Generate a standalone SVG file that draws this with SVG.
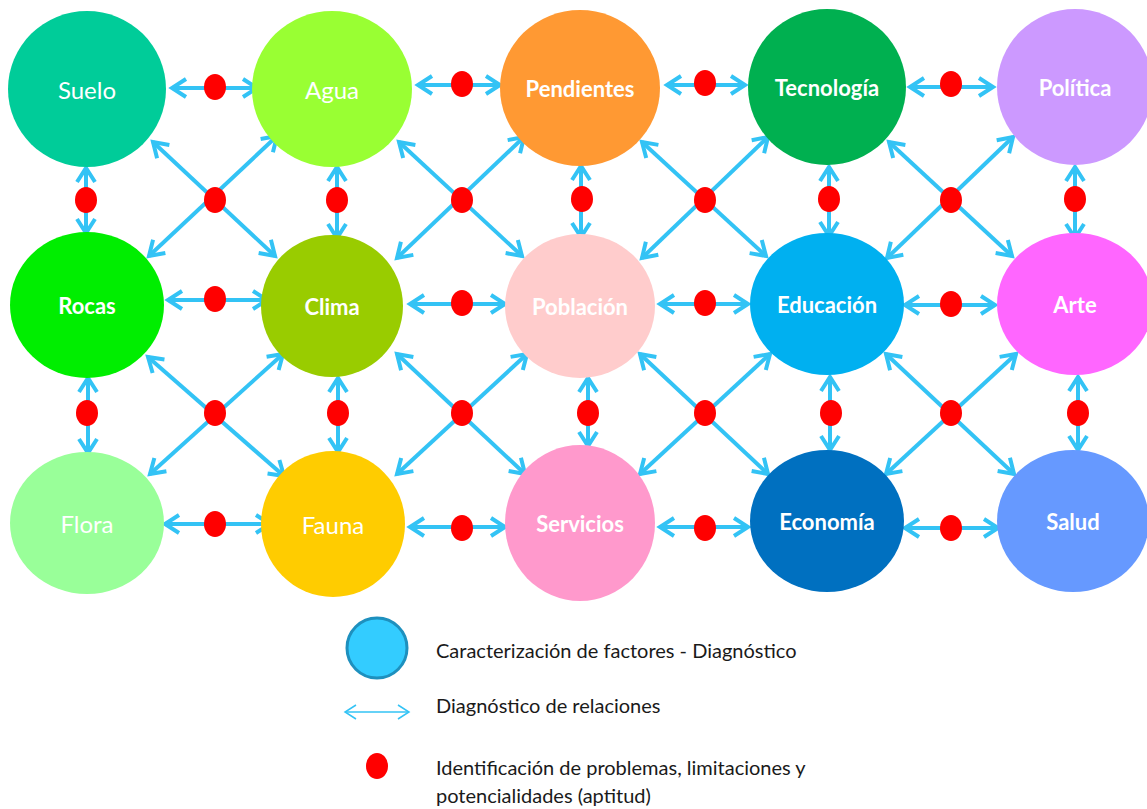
<svg xmlns="http://www.w3.org/2000/svg" width="1147" height="809" viewBox="0 0 1147 809">
<defs>
<marker id="ah" markerUnits="userSpaceOnUse" viewBox="-20 -13 26 26" refX="0" refY="0" markerWidth="26" markerHeight="26" orient="auto-start-reverse">
<path d="M-14,-9 L0,0 L-14,9" fill="none" stroke="#33C3F5" stroke-width="4"/>
</marker>
<marker id="ahs" markerUnits="userSpaceOnUse" viewBox="-14 -9 18 18" refX="0" refY="0" markerWidth="18" markerHeight="18" orient="auto-start-reverse">
<path d="M-11,-7 L0,0 L-11,7" fill="none" stroke="#33C3F5" stroke-width="1.5"/>
</marker>
<style>
.c{stroke:#33C3F5;stroke-width:4;fill:none;marker-start:url(#ah);marker-end:url(#ah)}
.d{fill:#FF0000}
.t{font-family:Lato,"Open Sans","Liberation Sans",sans-serif;fill:#FFFFFF;text-anchor:middle;dominant-baseline:central}
.r{font-size:24px;font-weight:normal}
.b{font-size:22px;font-weight:bold}
.lg{font-family:Lato,"Open Sans","Liberation Sans",sans-serif;font-size:20px;fill:#1A1A1A}
</style>
</defs>
<rect width="1147" height="809" fill="#FFFFFF"/>

<g id="connectors">
<line class="c" x1="172" y1="88" x2="257" y2="88"/>
<line class="c" x1="418" y1="85" x2="500" y2="85"/>
<line class="c" x1="667" y1="85" x2="745" y2="85"/>
<line class="c" x1="910" y1="87" x2="993" y2="87"/>
<line class="c" x1="168" y1="300" x2="267" y2="300"/>
<line class="c" x1="410" y1="304" x2="505" y2="304"/>
<line class="c" x1="660" y1="304" x2="748" y2="304"/>
<line class="c" x1="905" y1="305" x2="995" y2="305"/>
<line class="c" x1="165" y1="524" x2="270" y2="524"/>
<line class="c" x1="410" y1="527" x2="505" y2="527"/>
<line class="c" x1="660" y1="527" x2="748" y2="527"/>
<line class="c" x1="905" y1="528" x2="998" y2="528"/>
<line class="c" x1="86" y1="168" x2="86" y2="233"/>
<line class="c" x1="337" y1="167" x2="337" y2="238"/>
<line class="c" x1="581" y1="166" x2="581" y2="237"/>
<line class="c" x1="829" y1="167" x2="829" y2="236"/>
<line class="c" x1="1075" y1="167" x2="1075" y2="238"/>
<line class="c" x1="88" y1="378" x2="88" y2="453"/>
<line class="c" x1="338" y1="378" x2="338" y2="452"/>
<line class="c" x1="588" y1="378" x2="588" y2="446"/>
<line class="c" x1="830" y1="377" x2="830" y2="450"/>
<line class="c" x1="1078" y1="377" x2="1078" y2="450"/>
<line class="c" x1="153" y1="142" x2="275" y2="256"/>
<line class="c" x1="277" y1="136" x2="149" y2="256"/>
<line class="c" x1="399" y1="142" x2="522" y2="256"/>
<line class="c" x1="524" y1="137" x2="397" y2="258"/>
<line class="c" x1="642" y1="142" x2="766" y2="256"/>
<line class="c" x1="768" y1="137" x2="642" y2="258"/>
<line class="c" x1="889" y1="142" x2="1012" y2="256"/>
<line class="c" x1="1013" y1="137" x2="887" y2="258"/>
<line class="c" x1="148" y1="357" x2="284" y2="476"/>
<line class="c" x1="283" y1="354" x2="150" y2="474"/>
<line class="c" x1="397" y1="354" x2="525" y2="474"/>
<line class="c" x1="527" y1="354" x2="397" y2="474"/>
<line class="c" x1="640" y1="354" x2="768" y2="474"/>
<line class="c" x1="770" y1="354" x2="640" y2="474"/>
<line class="c" x1="886" y1="354" x2="1014" y2="474"/>
<line class="c" x1="1016" y1="354" x2="886" y2="474"/>
</g>

<g id="problem-points">
<ellipse class="d" cx="215" cy="87" rx="11" ry="13"/>
<ellipse class="d" cx="462" cy="84" rx="11" ry="13"/>
<ellipse class="d" cx="705" cy="83" rx="11" ry="13"/>
<ellipse class="d" cx="951" cy="84" rx="11" ry="13"/>
<ellipse class="d" cx="215" cy="299" rx="11" ry="13"/>
<ellipse class="d" cx="462" cy="303" rx="11" ry="13"/>
<ellipse class="d" cx="705" cy="303" rx="11" ry="13"/>
<ellipse class="d" cx="951" cy="304" rx="11" ry="13"/>
<ellipse class="d" cx="215" cy="524" rx="11" ry="13"/>
<ellipse class="d" cx="462" cy="528" rx="11" ry="13"/>
<ellipse class="d" cx="705" cy="528" rx="11" ry="13"/>
<ellipse class="d" cx="951" cy="528" rx="11" ry="13"/>
<ellipse class="d" cx="86" cy="200" rx="11" ry="13"/>
<ellipse class="d" cx="337" cy="200" rx="11" ry="13"/>
<ellipse class="d" cx="582" cy="199" rx="11" ry="13"/>
<ellipse class="d" cx="829" cy="199" rx="11" ry="13"/>
<ellipse class="d" cx="1075" cy="199" rx="11" ry="13"/>
<ellipse class="d" cx="87" cy="413" rx="11" ry="13"/>
<ellipse class="d" cx="338" cy="413" rx="11" ry="13"/>
<ellipse class="d" cx="588" cy="413" rx="11" ry="13"/>
<ellipse class="d" cx="831" cy="413" rx="11" ry="13"/>
<ellipse class="d" cx="1078" cy="413" rx="11" ry="13"/>
<ellipse class="d" cx="215" cy="200" rx="11" ry="13"/>
<ellipse class="d" cx="462" cy="200" rx="11" ry="13"/>
<ellipse class="d" cx="705" cy="200" rx="11" ry="13"/>
<ellipse class="d" cx="951" cy="200" rx="11" ry="13"/>
<ellipse class="d" cx="215" cy="413" rx="11" ry="13"/>
<ellipse class="d" cx="462" cy="413" rx="11" ry="13"/>
<ellipse class="d" cx="705" cy="413" rx="11" ry="13"/>
<ellipse class="d" cx="951" cy="413" rx="11" ry="13"/>
</g>

<g id="suelo"><ellipse cx="87" cy="89" rx="79" ry="78" fill="#00CC99"/><text class="t r" x="87" y="89">Suelo</text></g>
<g id="agua"><ellipse cx="332" cy="89" rx="80" ry="78" fill="#99FF33"/><text class="t r" x="332" y="89">Agua</text></g>
<g id="pendientes"><ellipse cx="580" cy="88" rx="80" ry="78" fill="#FF9933"/><text class="t b" x="580" y="88">Pendientes</text></g>
<g id="tecnologia"><ellipse cx="827" cy="87" rx="79" ry="78" fill="#00B050"/><text class="t b" x="827" y="87">Tecnología</text></g>
<g id="politica"><ellipse cx="1075" cy="87" rx="78" ry="78" fill="#CC99FF"/><text class="t b" x="1075" y="87">Política</text></g>

<g id="rocas"><ellipse cx="87" cy="305" rx="77" ry="73" fill="#00EE00"/><text class="t b" x="87" y="305">Rocas</text></g>
<g id="clima"><ellipse cx="332" cy="306" rx="71" ry="71" fill="#99CC00"/><text class="t b" x="332" y="306">Clima</text></g>
<g id="poblacion"><ellipse cx="580" cy="306" rx="75" ry="72" fill="#FFCCCC"/><text class="t b" x="580" y="306">Población</text></g>
<g id="educacion"><ellipse cx="827" cy="304" rx="77" ry="71" fill="#00B0F0"/><text class="t b" x="827" y="304">Educación</text></g>
<g id="arte"><ellipse cx="1075" cy="304" rx="78" ry="71" fill="#FF66FF"/><text class="t b" x="1075" y="304">Arte</text></g>

<g id="flora"><ellipse cx="87" cy="523" rx="77" ry="71" fill="#99FF99"/><text class="t r" x="87" y="523">Flora</text></g>
<g id="fauna"><ellipse cx="333" cy="524" rx="72" ry="73" fill="#FFCC00"/><text class="t r" x="333" y="524">Fauna</text></g>
<g id="servicios"><ellipse cx="580" cy="523" rx="75" ry="78" fill="#FF99CC"/><text class="t b" x="580" y="523">Servicios</text></g>
<g id="economia"><ellipse cx="827" cy="521" rx="77" ry="71" fill="#0070C0"/><text class="t b" x="827" y="521">Economía</text></g>
<g id="salud"><ellipse cx="1073" cy="521" rx="76" ry="71" fill="#6699FF"/><text class="t b" x="1073" y="521">Salud</text></g>

<g id="legend">
<circle cx="377" cy="648" r="30" fill="#33CCFF" stroke="#1E90BE" stroke-width="3"/>
<text class="lg" x="436" y="658">Caracterización de factores - Diagnóstico</text>
<line x1="345" y1="712" x2="409" y2="712" stroke="#33C3F5" stroke-width="1.5" marker-start="url(#ahs)" marker-end="url(#ahs)"/>
<text class="lg" x="436" y="713">Diagnóstico de relaciones</text>
<ellipse class="d" cx="377" cy="766" rx="11" ry="13"/>
<text class="lg" x="436" y="775">Identificación de problemas, limitaciones y</text>
<text class="lg" x="436" y="803">potencialidades (aptitud)</text>
</g>
</svg>
